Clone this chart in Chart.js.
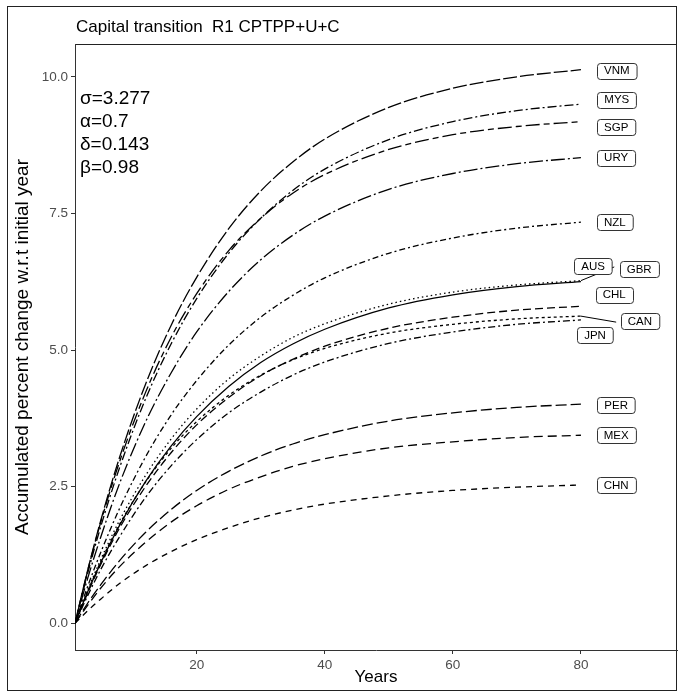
<!DOCTYPE html>
<html>
<head>
<meta charset="utf-8">
<script src="https://cdn.jsdelivr.net/npm/chart.js@4.4.1/dist/chart.umd.min.js"></script>
<style>
  html, body { margin: 0; padding: 0; background: #fff; }
</style>
</head>
<body>
<canvas id="chart1" width="680" height="696"></canvas>
<script>
// years sampled along the curves
const years = [1, 3, 5, 8, 12, 16, 20, 25, 30, 35, 40, 50, 60, 70, 80];

const VNM = [0, 0.98, 1.87, 3.05, 4.37, 5.45, 6.33, 7.22, 7.91, 8.44, 8.86, 9.44, 9.79, 10.00, 10.13];
const MYS = [0, 0.92, 1.76, 2.86, 4.10, 5.11, 5.94, 6.77, 7.41, 7.92, 8.31, 8.85, 9.18, 9.38, 9.50];
const SGP = [0, 0.97, 1.84, 2.97, 4.22, 5.23, 6.03, 6.82, 7.41, 7.87, 8.21, 8.67, 8.94, 9.09, 9.18];
const URY = [0, 0.83, 1.57, 2.57, 3.68, 4.58, 5.33, 6.07, 6.65, 7.10, 7.45, 7.94, 8.23, 8.41, 8.52];
const NZL = [0, 0.68, 1.29, 2.11, 3.04, 3.81, 4.44, 5.09, 5.60, 6.00, 6.32, 6.77, 7.05, 7.23, 7.34];
const AUS = [0, 0.58, 1.10, 1.80, 2.59, 3.24, 3.78, 4.33, 4.77, 5.11, 5.38, 5.77, 6.01, 6.16, 6.25];
const GBR = [0, 0.61, 1.16, 1.89, 2.70, 3.37, 3.92, 4.47, 4.89, 5.23, 5.48, 5.84, 6.06, 6.19, 6.27];
const CHL = [0, 0.56, 1.07, 1.75, 2.50, 3.12, 3.63, 4.13, 4.53, 4.83, 5.07, 5.40, 5.60, 5.73, 5.80];
const CAN = [0, 0.59, 1.12, 1.82, 2.58, 3.20, 3.69, 4.17, 4.54, 4.82, 5.03, 5.31, 5.47, 5.57, 5.62];
const JPN = [0, 0.51, 0.98, 1.59, 2.30, 2.88, 3.36, 3.85, 4.23, 4.54, 4.78, 5.12, 5.33, 5.47, 5.55];
const PER = [0, 0.37, 0.70, 1.15, 1.66, 2.08, 2.43, 2.78, 3.06, 3.28, 3.45, 3.70, 3.85, 3.95, 4.01];
const MEX = [0, 0.33, 0.64, 1.04, 1.48, 1.85, 2.15, 2.45, 2.68, 2.87, 3.01, 3.21, 3.32, 3.40, 3.44];
const CHN = [0, 0.23, 0.44, 0.73, 1.05, 1.31, 1.53, 1.75, 1.93, 2.07, 2.18, 2.33, 2.43, 2.49, 2.53];

const countries = ['VNM', 'MYS', 'SGP', 'URY', 'NZL', 'AUS', 'GBR', 'CHL', 'CAN', 'JPN', 'PER', 'MEX', 'CHN'];
const values = [VNM, MYS, SGP, URY, NZL, AUS, GBR, CHL, CAN, JPN, PER, MEX, CHN];

const xTicks = [20, 40, 60, 80];
const yTicks = [0, 2.5, 5, 7.5, 10];

const params = ['σ=3.277', 'α=0.7', 'δ=0.143', 'β=0.98'];

// line types, one per country
const dashes = [
  [14, 3], [9, 3, 2, 3], [6, 4, 14, 4], [14, 3, 2, 3], [6, 3, 2, 3], [],
  [1.5, 3], [8, 4], [3, 3], [7, 3, 2, 3], [11, 4], [9, 5], [6, 5]
];

// where the boxed labels sit (data units), repelled to the right of the lines
const labelPos = {
  VNM: [85.6, 10.11], MYS: [85.6, 9.58], SGP: [85.5, 9.08], URY: [85.5, 8.52],
  NZL: [85.3, 7.34], AUS: [81.9, 6.54], GBR: [89.1, 6.48], CHL: [85.2, 6.01],
  CAN: [89.2, 5.53], JPN: [82.2, 5.27], PER: [85.5, 3.99], MEX: [85.5, 3.44],
  CHN: [85.5, 2.53]
};
const connectors = { GBR: [85.2, 6.52], CAN: [85.5, 5.51] };

const FONT = "'Liberation Sans', Arial, sans-serif";

const datasets = countries.map((c, i) => ({
  label: c,
  data: years.map((x, j) => ({ x: x, y: values[i][j] })),
  borderColor: '#000',
  borderWidth: 1.3,
  borderDash: dashes[i],
  pointRadius: 0,
  fill: false,
  tension: 0.4,
  cubicInterpolationMode: 'monotone'
}));

const decor = {
  id: 'decor',
  beforeDraw(chart) {
    const ctx = chart.ctx;
    const a = chart.chartArea;
    ctx.save();
    ctx.fillStyle = '#fff';
    ctx.fillRect(0, 0, chart.width, chart.height);
    ctx.strokeStyle = '#222';
    ctx.lineWidth = 1;
    ctx.strokeRect(7.5, 6.5, 669, 684);
    ctx.beginPath();
    ctx.moveTo(a.left, a.top + 0.5);
    ctx.lineTo(a.right, a.top + 0.5);
    ctx.stroke();
    ctx.fillStyle = '#000';
    ctx.font = '17px ' + FONT;
    ctx.textBaseline = 'middle';
    ctx.fillText('Capital transition  R1 CPTPP+U+C', a.left + 1, 27);
    ctx.restore();
  },
  afterDatasetsDraw(chart) {
    const ctx = chart.ctx;
    const a = chart.chartArea;
    const sx = chart.scales.x, sy = chart.scales.y;
    ctx.save();
    ctx.fillStyle = '#000';
    ctx.font = '19px ' + FONT;
    ctx.textBaseline = 'middle';
    params.forEach((t, i) => ctx.fillText(t, a.left + 5, 99 + i * 23));

    ctx.strokeStyle = '#000';
    ctx.lineWidth = 1;
    Object.keys(connectors).forEach(c => {
      const v = values[countries.indexOf(c)];
      ctx.beginPath();
      ctx.moveTo(sx.getPixelForValue(years[years.length - 1]), sy.getPixelForValue(v[v.length - 1]));
      ctx.lineTo(sx.getPixelForValue(connectors[c][0]), sy.getPixelForValue(connectors[c][1]));
      ctx.stroke();
    });

    ctx.font = '11.5px ' + FONT;
    ctx.textAlign = 'center';
    countries.forEach(c => {
      const px = sx.getPixelForValue(labelPos[c][0]);
      const py = sy.getPixelForValue(labelPos[c][1]);
      const w = ctx.measureText(c).width + 14, h = 16;
      ctx.beginPath();
      ctx.roundRect(Math.round(px - w / 2) + 0.5, Math.round(py - h / 2) + 0.5, w, h, 3);
      ctx.fillStyle = '#fff';
      ctx.fill();
      ctx.strokeStyle = '#333';
      ctx.stroke();
      ctx.fillStyle = '#000';
      ctx.fillText(c, px, py + 0.5);
    });
    ctx.restore();
  }
};

new Chart(document.getElementById('chart1'), {
  type: 'line',
  data: { datasets: datasets },
  options: {
    responsive: false,
    animation: false,
    layout: { padding: { top: 44, right: 3, left: 0, bottom: 0 } },
    plugins: { legend: { display: false }, tooltip: { enabled: false } },
    scales: {
      x: {
        type: 'linear',
        min: 1,
        max: 95,
        afterBuildTicks: axis => { axis.ticks = xTicks.map(v => ({ value: v })); },
        afterFit: axis => { axis.height = 46; },
        ticks: { color: '#4d4d4d', font: { family: FONT, size: 13.5 }, padding: 3 },
        grid: { drawOnChartArea: false, drawTicks: true, tickLength: 4, color: '#333' },
        border: { display: true, color: '#333', width: 1 },
        title: { display: true, text: 'Years', color: '#000', font: { family: FONT, size: 17 }, padding: { top: 0, bottom: 8 } }
      },
      y: {
        type: 'linear',
        min: -0.49,
        max: 10.6,
        afterBuildTicks: axis => { axis.ticks = yTicks.map(v => ({ value: v })); },
        afterFit: axis => { axis.width = 75; },
        ticks: { color: '#4d4d4d', font: { family: FONT, size: 13.5 }, padding: 3, callback: v => v.toFixed(1) },
        grid: { drawOnChartArea: false, drawTicks: true, tickLength: 4, color: '#333' },
        border: { display: true, color: '#333', width: 1 },
        title: { display: true, text: 'Accumulated percent change w.r.t initial year', color: '#000', font: { family: FONT, size: 19 }, padding: { top: 11, bottom: 0 } }
      }
    }
  },
  plugins: [decor]
});
</script>
</body>
</html>
